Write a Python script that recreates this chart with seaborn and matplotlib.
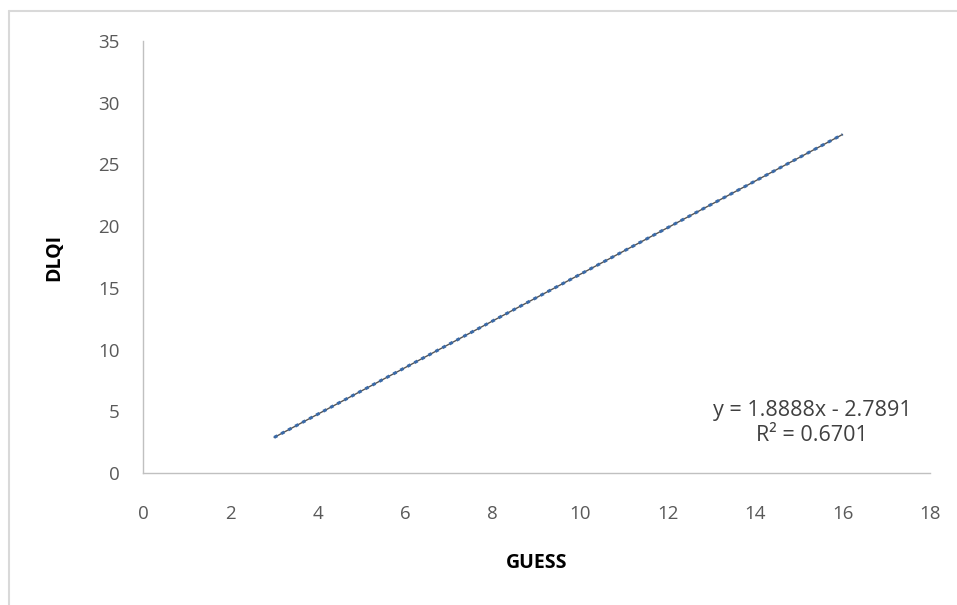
import matplotlib
matplotlib.use("Agg")
import pandas as pd
import seaborn as sns
import matplotlib.pyplot as plt
from matplotlib.lines import Line2D

# Podatki: trendna črta (začetna in končna točka)
guess = [3, 16]
dlqi = [2.88, 27.43]
x_ticks = [0, 2, 4, 6, 8, 10, 12, 14, 16, 18]
y_ticks = [0, 5, 10, 15, 20, 25, 30, 35]
equation = "y = 1.8888x - 2.7891"
r_squared = "R² = 0.6701"

sns.set_style("white")
plt.rcParams["font.family"] = ["Open Sans", "DejaVu Sans"]

df = pd.DataFrame({"GUESS": guess, "DLQI": dlqi})

fig = plt.figure(figsize=(9.57, 6.05), dpi=100)
ax = fig.add_axes([0.1494, 0.2182, 0.8224, 0.7140])

# Trendna črta: siva osnova + modre pike
sns.lineplot(data=df, x="GUESS", y="DLQI", ax=ax, color="#555555", linewidth=1.0)
sns.lineplot(data=df, x="GUESS", y="DLQI", ax=ax, color="#3a6aa8",
             linewidth=2.2, linestyle=(0, (1.2, 1.4)))

ax.set_xlim(0, 18)
ax.set_ylim(0, 35)
ax.set_xticks(x_ticks)
ax.set_yticks(y_ticks)
ax.tick_params(axis="both", labelsize=13.5, colors="#595959", length=0)
ax.tick_params(axis="y", pad=17)
ax.tick_params(axis="x", pad=23)

for side in ["top", "right"]:
    ax.spines[side].set_visible(False)
for side in ["left", "bottom"]:
    ax.spines[side].set_color("#c0c0c0")
    ax.spines[side].set_linewidth(1.0)

ax.set_xlabel("GUESS", fontsize=14, fontweight="bold", color="black", labelpad=22)
ax.set_ylabel("DLQI", fontsize=14, fontweight="bold", color="black", labelpad=24)

ax.text(0.850, 0.116, equation + "\n" + r_squared, transform=ax.transAxes,
        ha="center", va="center", fontsize=15.5, color="#404040", linespacing=1.25)

# Okvir grafikona
fig.add_artist(Line2D([9 / 957, 1], [1 - 11 / 605, 1 - 11 / 605],
                      transform=fig.transFigure, color="#d9d9d9", linewidth=1.5))
fig.add_artist(Line2D([9 / 957, 9 / 957], [0, 1 - 11 / 605],
                      transform=fig.transFigure, color="#d9d9d9", linewidth=1.5))

fig.savefig("out.png", dpi=100)
